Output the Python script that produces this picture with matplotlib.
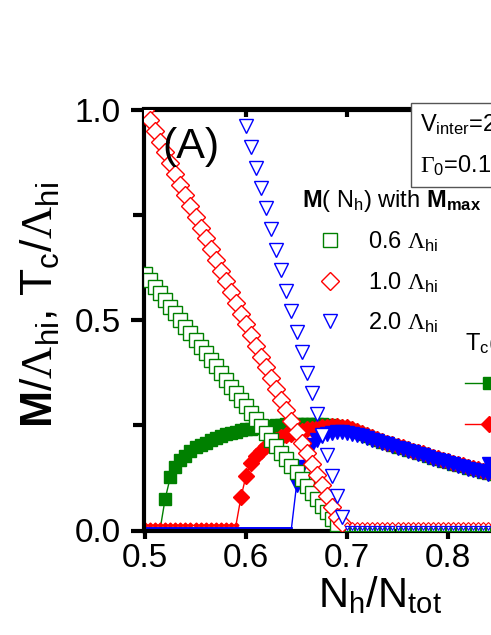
import numpy as np
import matplotlib
matplotlib.use('Agg')
import matplotlib.pyplot as plt
from matplotlib.patches import Rectangle
from matplotlib.ticker import MultipleLocator, FormatStrFormatter

plt.rcParams['font.family'] = ['Liberation Sans', 'DejaVu Sans']
plt.rcParams['mathtext.fontset'] = 'custom'
plt.rcParams['mathtext.rm'] = 'Liberation Sans'
plt.rcParams['mathtext.it'] = 'Liberation Sans'
plt.rcParams['mathtext.bf'] = 'Liberation Sans:bold'
plt.rcParams['mathtext.sf'] = 'Liberation Serif'

# N_h / N_tot grid (step 0.005)
x = np.round(np.arange(0.5, 0.8501, 0.005), 3)

# M(N_h) for M_max = 0.6, 1.0, 2.0 Lambda_hi (open markers)
m_06 = [0.610, 0.594, 0.579, 0.563, 0.547, 0.531, 0.516, 0.500, 0.484, 0.468,
        0.453, 0.437, 0.421, 0.405, 0.390, 0.374, 0.358, 0.342, 0.327, 0.311,
        0.295, 0.279, 0.264, 0.248, 0.232, 0.216, 0.201, 0.185, 0.169, 0.153,
        0.138, 0.122, 0.106, 0.090, 0.075, 0.059, 0.043, 0.027, 0.016, 0.004] + [0.004] * 31
m_10 = [1.000, 0.974, 0.949, 0.923, 0.898, 0.872, 0.847, 0.821, 0.796, 0.770,
        0.745, 0.719, 0.694, 0.668, 0.643, 0.617, 0.592, 0.566, 0.541, 0.515,
        0.490, 0.464, 0.439, 0.413, 0.388, 0.362, 0.337, 0.311, 0.286, 0.260,
        0.235, 0.209, 0.184, 0.158, 0.133, 0.107, 0.082, 0.056, 0.031, 0.018] + [0.012] * 31
m_20 = [np.nan] * 20 + [
        0.960, 0.911, 0.862, 0.814, 0.765, 0.716, 0.667, 0.618, 0.570, 0.521,
        0.472, 0.423, 0.374, 0.326, 0.277, 0.228, 0.179, 0.130, 0.082, 0.033] + [0.006] * 31

# Tc(N_h) (filled markers)
tc_06 = [0.004, 0.004, 0.004, 0.004, 0.076, 0.126, 0.152, 0.167, 0.178, 0.189,
         0.198, 0.204, 0.209, 0.215, 0.220, 0.225, 0.229, 0.232, 0.235, 0.238,
         0.240, 0.242, 0.244, 0.246, 0.248, 0.249, 0.250, 0.251, 0.252, 0.252,
         0.253, 0.253, 0.253, 0.253, 0.252, 0.252, 0.251, 0.250, 0.248, 0.246,
         0.243, 0.239, 0.234, 0.229, 0.224, 0.219, 0.215, 0.211, 0.207, 0.203,
         0.199, 0.196, 0.192, 0.188, 0.184, 0.181, 0.177, 0.173, 0.170, 0.166,
         0.163, 0.159, 0.156, 0.153, 0.149, 0.146, 0.143, 0.140, 0.137, 0.134, 0.131]
tc_10 = [0.012] * 19 + [
         0.079, 0.130, 0.160, 0.178, 0.190, 0.200, 0.208, 0.215, 0.221, 0.226,
         0.230, 0.234, 0.237, 0.240, 0.242, 0.244, 0.246, 0.247, 0.248, 0.248, 0.247,
         0.245, 0.241, 0.236, 0.231, 0.226, 0.221, 0.217, 0.213, 0.209, 0.205,
         0.201, 0.198, 0.194, 0.190, 0.186, 0.183, 0.179, 0.175, 0.172, 0.168,
         0.165, 0.161, 0.158, 0.155, 0.151, 0.148, 0.145, 0.142, 0.139, 0.136, 0.133]
tc_20 = [0.006] * 30 + [
         0.107, 0.150, 0.183, 0.203, 0.216, 0.224, 0.229, 0.232, 0.233, 0.233,
         0.232, 0.230, 0.227, 0.224, 0.220, 0.216, 0.213, 0.209, 0.205, 0.201,
         0.197, 0.194, 0.190, 0.186, 0.182, 0.179, 0.175, 0.171, 0.168, 0.164,
         0.161, 0.157, 0.154, 0.151, 0.147, 0.144, 0.141, 0.138, 0.135, 0.132, 0.129]

labels = ['0.6 $\\mathsf{\\Lambda}_{hi}$', '1.0 $\\mathsf{\\Lambda}_{hi}$', '2.0 $\\mathsf{\\Lambda}_{hi}$']
colors = ['#008000', '#ff0000', '#0000ff']
markers = ['s', 'D', 'v']
msize = [9.5, 9.5, 10]
tc_size = [8, 8.5, 9.5]

W, H = 491, 635
fig = plt.figure(figsize=(W / 100, H / 100), dpi=100)
ax = fig.add_axes([143.5 / W, 104.5 / H, 473 / W, 421 / H])

tc_handles = []
for y, c, mk, ms in zip([tc_06, tc_10, tc_20], colors, markers, tc_size):
    y = np.array(y)
    big = y > 0.015
    ax.plot(x, y, color=c, lw=1, zorder=2)
    ax.plot(x[big], y[big], ls='none', marker=mk, ms=ms, color=c, mec=c, zorder=2)
    if mk == 'D':
        ax.plot(x[~big], y[~big], ls='none', marker=mk, ms=2.5, color=c, zorder=2)
    else:
        ax.plot(x[~big], y[~big], color=c, lw=2, zorder=2)
    tc_handles.append(ax.plot([], [], color=c, lw=1, marker=mk, ms=ms)[0])

m_handles = []
for y, c, mk, ms in zip([m_06, m_10, m_20], colors, markers, msize):
    y = np.array(y)
    big = y > 0.015
    h, = ax.plot(x[big], y[big], ls='none', marker=mk, ms=ms, mfc='white', mec=c, mew=1, zorder=3)
    ax.plot(x[~big], y[~big], ls='none', marker=mk, ms=3, mfc='white', mec=c, mew=0.8, zorder=3)
    m_handles.append(h)

ax.set_xlim(0.4985, 0.9668)
ax.set_ylim(0, 1.0)
ax.set_xticks([0.5, 0.6, 0.7, 0.8, 0.9])
ax.set_yticks([0.0, 0.5, 1.0])
ax.yaxis.set_minor_locator(MultipleLocator(0.25))
ax.xaxis.set_major_formatter(FormatStrFormatter('%.1f'))
ax.yaxis.set_major_formatter(FormatStrFormatter('%.1f'))
for s in ax.spines.values():
    s.set_linewidth(3)
ax.tick_params(axis='both', which='both', direction='out', width=3, labelsize=24, top=False, right=False)
ax.tick_params(axis='y', which='major', length=9.5, pad=7)
ax.tick_params(axis='y', which='minor', length=8)
ax.tick_params(axis='x', which='major', length=6, pad=3)

top = ax.secondary_xaxis('top')
top.set_xticks([0.5, 0.6, 0.7, 0.8, 0.9])
top.set_xticklabels([])
top.tick_params(direction='in', length=6, width=3)
top.spines['top'].set_linewidth(3)

ax.set_xlabel('N$_h$/N$_{tot}$', fontsize=30, labelpad=0)
ax.set_ylabel('$\\mathbf{M}/\\mathsf{\\Lambda}_{hi}$, T$_c$/$\\mathsf{\\Lambda}_{hi}$', fontsize=32, labelpad=9)
ax.yaxis.label.set_y(0.535)

fig.text(162 / W, 1 - 158 / H, '(A)', fontsize=31, va='baseline', ha='left')

leg1 = ax.legend(m_handles, labels, title='$\\mathbf{M}$( N$_h$) with $\\mathbf{M_{max}}$',
                 loc='upper left', bbox_to_anchor=(302 / W, 1 - 188 / H), bbox_transform=fig.transFigure,
                 frameon=False, fontsize=17, title_fontsize=17, alignment='left',
                 handlelength=2.4, handletextpad=0.4, labelspacing=0.66, borderpad=0, borderaxespad=0)
ax.add_artist(leg1)
ax.legend(tc_handles, labels, title='T$_c$( N$_h$)',
          loc='upper left', bbox_to_anchor=(465 / W, 1 - 331 / H), bbox_transform=fig.transFigure,
          frameon=False, fontsize=17, title_fontsize=17, alignment='left',
          handlelength=2.0, handletextpad=0.4, labelspacing=0.66, borderpad=0, borderaxespad=0)

box = Rectangle((411 / W, 1 - 187 / H), 0.5, 84 / H, transform=fig.transFigure,
                facecolor='white', edgecolor='#555555', lw=1, zorder=2.5)
fig.add_artist(box)
fig.text(420 / W, 1 - 131 / H, 'V$_{inter}$=2.0 $\\mathsf{\\Lambda}_{hi}$', fontsize=17, va='baseline', zorder=4)
fig.text(420 / W, 1 - 172 / H, '$\\mathsf{\\Gamma}_0$=0.1 $\\mathsf{\\Lambda}_{hi}$', fontsize=17, va='baseline', zorder=4)

fig.savefig('out.png', dpi=100)
